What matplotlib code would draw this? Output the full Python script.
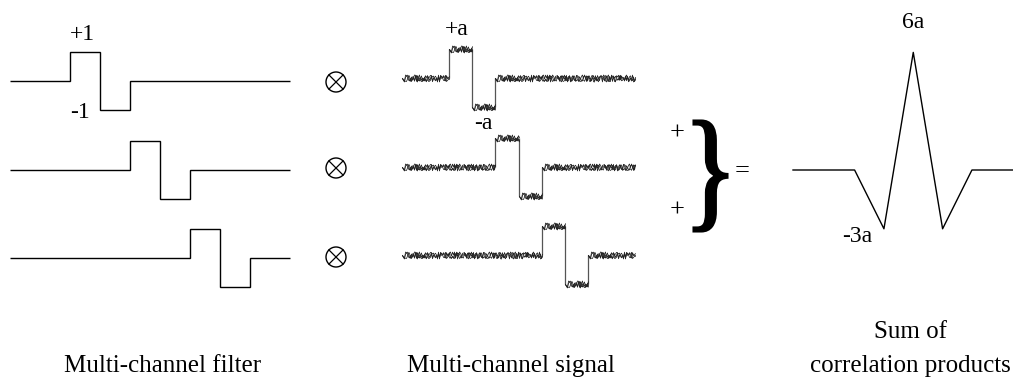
import matplotlib
matplotlib.use("Agg")
import matplotlib.pyplot as plt
from matplotlib.patches import Circle, PathPatch
from matplotlib.textpath import TextPath
from matplotlib.font_manager import FontProperties
from matplotlib.transforms import Affine2D

plt.rcParams['font.family'] = ['Liberation Serif', 'DejaVu Serif']

W, H = 1013, 377

# filter taps (+1 then -1), shifted by two samples on each channel
filter_edges = [[0, 2, 3, 4, 9.33],
                [0, 4, 5, 6, 9.33],
                [0, 6, 7, 8, 9.33]]
filter_levels = [0, 1, -1, 0]

# received signal on each channel, in units of a
signal_edges = [[0, 2, 3, 4, 10],
                [0, 4, 5, 6, 10],
                [0, 6, 7, 8, 10]]
signal_levels = [0, 1, -1, 0]

# sum of the three correlations, in units of a
corr_lag = [-4.1, -2, -1, 0, 1, 2, 3.4]
corr_sum = [0, 0, -3, 6, -3, 0, 0]

bottom_labels = ['Multi-channel filter', 'Multi-channel signal', 'correlation products']

# sketch settings used to draw the measurement noise as a line style
noise_styles = [(3.5, 1.0, 10), (3.0, 0.7, 20), (2.5, 1.4, 6)]

fig = plt.figure(figsize=(W / 100, H / 100), dpi=100)


def box(x0, y0, w, h):
    # pixel box with top-left origin -> figure fraction
    return [x0 / W, 1 - (y0 + h) / H, w / W, h / H]


# filter rows
for k, base in enumerate([81, 170, 258]):
    ax = fig.add_axes(box(10, base - 43.5, 280, 87))
    ax.stairs(filter_levels, filter_edges[k], baseline=None,
              color='black', lw=1.0, clip_on=False)
    ax.set_xlim(0, 9.33)
    ax.set_ylim(-1.5, 1.5)
    ax.axis('off')

# noisy signal rows
for k, base in enumerate([78, 167, 255]):
    ax = fig.add_axes(box(402, base - 44, 233, 88))
    e = signal_edges[k]
    for i in range(1, len(e) - 1):
        ax.vlines(e[i], signal_levels[i - 1], signal_levels[i],
                  color='#555555', lw=0.9, clip_on=False)
    for i, v in enumerate(signal_levels):
        for sc, ln_len, rnd in noise_styles:
            ln, = ax.plot([e[i], e[i + 1]], [v, v], color='#222222', lw=0.55,
                          clip_on=False)
            ln.set_sketch_params(scale=sc, length=ln_len, randomness=rnd)
    ax.set_xlim(0, 10)
    ax.set_ylim(-1.5, 1.5)
    ax.axis('off')

# correlation sum
u = 19.6
ax = fig.add_axes(box(793, 170 - 7 * u, 220, 11 * u))
ax.plot(corr_lag, corr_sum, color='black', lw=1.0, clip_on=False)
ax.set_xlim(-4.1, 3.4)
ax.set_ylim(-4, 7)
ax.axis('off')

# overlay for labels and symbols, pixel coordinates
ov = fig.add_axes([0, 0, 1, 1])
ov.set_xlim(0, W)
ov.set_ylim(H, 0)
ov.axis('off')

fs = 17
ov.text(82, 40, '+1', ha='center', va='baseline', fontsize=fs)
ov.text(80, 118, '-1', ha='center', va='baseline', fontsize=fs)
ov.text(457, 35, '+a', ha='center', va='baseline', fontsize=fs)
ov.text(483, 129, '-a', ha='center', va='baseline', fontsize=fs)
ov.text(913, 28, '6a', ha='center', va='baseline', fontsize=fs)
ov.text(857, 242, '-3a', ha='center', va='baseline', fontsize=fs)
ov.text(677, 140, '+', ha='center', va='baseline', fontsize=19)
ov.text(677, 217, '+', ha='center', va='baseline', fontsize=19)
ov.text(742, 177, '=', ha='center', va='baseline', fontsize=19)

ov.text(163, 372, bottom_labels[0], ha='center', va='baseline', fontsize=18)
ov.text(511, 372, bottom_labels[1], ha='center', va='baseline', fontsize=18)
ov.text(910, 372, bottom_labels[2], ha='center', va='baseline', fontsize=18)
ov.text(910, 338, 'Sum of', ha='center', va='baseline', fontsize=18)

# circled-times operators
r = 10
for y in [82, 168, 257]:
    ov.add_patch(Circle((336, y), r, fill=False, ec='black', lw=1.0))
    d = r * 0.707
    ov.plot([336 - d, 336 + d], [y - d, y + d], color='black', lw=0.9)
    ov.plot([336 - d, 336 + d], [y + d, y - d], color='black', lw=0.9)

# big curly brace
tp = TextPath((0, 0), '}', size=1, prop=FontProperties(family='Liberation Serif'))
ext = tp.get_extents()
bx0, by0, bx1, by1 = 694, 121, 727, 231
tr = (Affine2D().translate(-ext.x0, -ext.y0)
      .scale((bx1 - bx0) / ext.width, -(by1 - by0) / ext.height)
      .translate(bx0, by1))
ov.add_patch(PathPatch(tr.transform_path(tp), fc='black', ec='black', lw=2.2))

fig.savefig('out.png', dpi=100)
